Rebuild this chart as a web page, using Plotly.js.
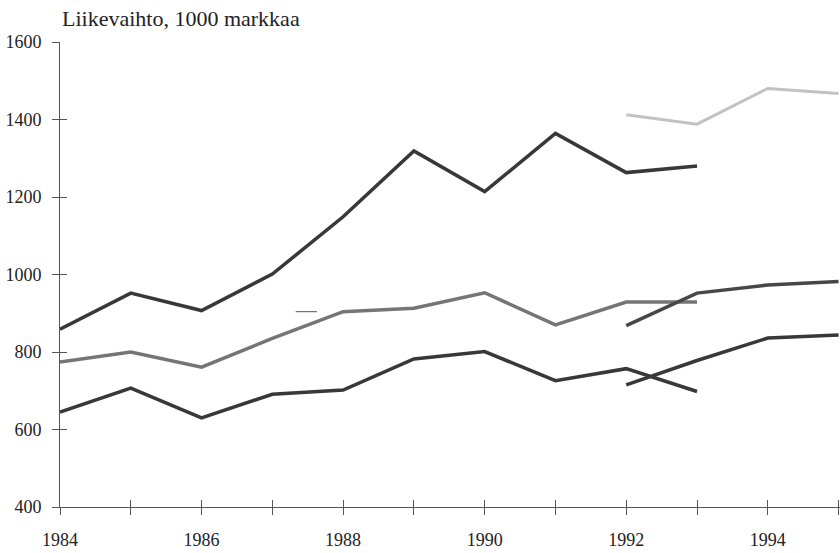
<!DOCTYPE html>
<html>
<head>
<meta charset="utf-8">
<script src="https://cdn.plot.ly/plotly-3.0.1.min.js"></script>
<style>html,body{margin:0;padding:0;background:#fff;}#chart{width:840px;height:553px;}</style>
</head>
<body>
<div id="chart"></div>
<script>
// Data
const yearsA = [1984,1985,1986,1987,1988,1989,1990,1991,1992,1993];
const topDark = [859,952,907,1001,1149,1319,1214,1364,1263,1280];
const midGray = [774,800,761,835,904,913,953,870,929,929];
const lowDark = [645,707,630,691,702,782,801,726,757,698];

const yearsB = [1992,1993,1994,1995];
const newLight = [1412,1388,1480,1467];
const newUpper = [868,952,973,982];
const newLower = [715,778,836,844];

const strayX = [1987.33,1987.63];
const strayY = [904,904];

const tickYears = [1984,1985,1986,1987,1988,1989,1990,1991,1992,1993,1994,1995];
const tickLabels = ['1984','','1986','','1988','','1990','','1992','','1994',''];
const yTicks = [400,600,800,1000,1200,1400,1600];

const dark = '#383838';
const traces = [
  {x: yearsA, y: topDark, mode:'lines', line:{color:dark, width:3.5}},
  {x: yearsA, y: midGray, mode:'lines', line:{color:'#757575', width:3.5}},
  {x: yearsA, y: lowDark, mode:'lines', line:{color:dark, width:3.5}},
  {x: yearsB, y: newLight, mode:'lines', line:{color:'#c2c2c2', width:3}, xaxis:'x2', yaxis:'y2'},
  {x: yearsB, y: newUpper, mode:'lines', line:{color:'#474747', width:3.5}},
  {x: yearsB, y: newLower, mode:'lines', line:{color:dark, width:3.5}},
  {x: strayX, y: strayY, mode:'lines', line:{color:'#555', width:1}}
];

const xr = [1984, 1995.02];
const yr = [400, 1600];
const fontSerif = '"Liberation Serif", "Times New Roman", serif';

const layout = {
  width: 840, height: 553,
  margin: {l:60, r:0, t:42, b:46, pad:0},
  paper_bgcolor:'#fff', plot_bgcolor:'#fff',
  showlegend:false,
  font: {family: fontSerif, size: 18, color:'#222'},
  title: {text:'Liikevaihto, 1000 markkaa', font:{family:fontSerif, size:22, color:'#222'},
          x: 62/840, xanchor:'left', xref:'container', y: 1-18/553, yanchor:'middle', yref:'container'},
  xaxis: {range: xr, tickvals: tickYears, ticktext: tickLabels, ticks:'outside', ticklen:7,
          tickcolor:'#555', showline:true, linecolor:'#555', linewidth:1, showgrid:false,
          zeroline:false, ticklabelstandoff:9, tickfont:{family:fontSerif, size:18, color:'#222'}},
  yaxis: {range: yr, tickvals: yTicks, ticks:'outside', ticklen:7, tickcolor:'#555',
          showline:true, linecolor:'#555', linewidth:1, showgrid:false, zeroline:false,
          ticklabelstandoff:7, tickfont:{family:fontSerif, size:18, color:'#222'}},
  xaxis2: {range: xr, overlaying:'x', anchor:'y2', tickvals: tickYears, ticks:'inside', ticklen:7,
           tickcolor:'#555', tickwidth:1, showticklabels:false, showline:false, showgrid:false, zeroline:false},
  yaxis2: {range: yr, overlaying:'y', anchor:'x2', side:'left', tickvals: yTicks, ticks:'inside', ticklen:7,
           tickcolor:'#555', tickwidth:1, showticklabels:false, showline:false, showgrid:false, zeroline:false}
};

Plotly.newPlot('chart', traces, layout, {staticPlot:true, displayModeBar:false});
</script>
</body>
</html>
